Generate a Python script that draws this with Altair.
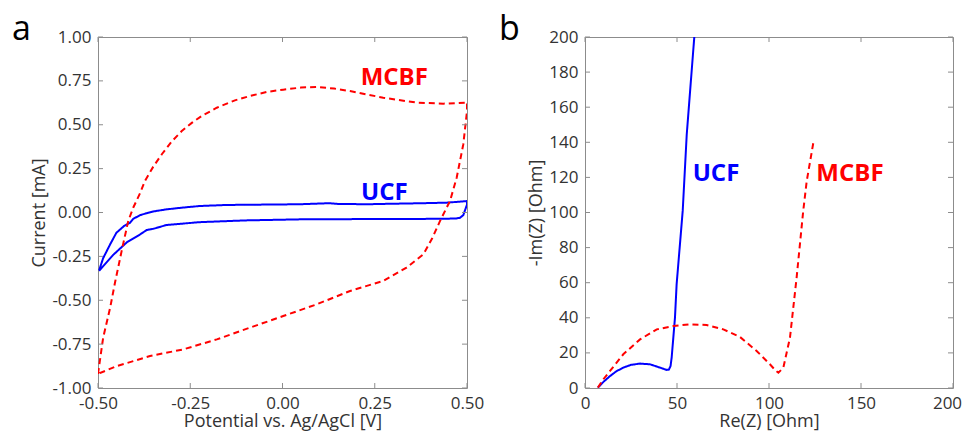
import altair as alt
import pandas as pd

# ---------------- data: panel a (cyclic voltammetry) ----------------
ucf_cv_v = [-0.497, -0.486, -0.467, -0.45, -0.43, -0.413, -0.405, -0.386, -0.368, -0.35,
            -0.314, -0.27, -0.224, -0.15, -0.05, 0.047, 0.127, 0.15, 0.228, 0.3, 0.38,
            0.445, 0.494, 0.5, 0.5, 0.49, 0.481, 0.47, 0.43, 0.3, 0.15, 0.047, -0.1,
            -0.224, -0.314, -0.35, -0.358, -0.368, -0.386, -0.422, -0.458, -0.486, -0.497]
ucf_cv_i = [-0.33, -0.26, -0.181, -0.115, -0.078, -0.058, -0.037, -0.015, -0.004, 0.006,
            0.018, 0.028, 0.037, 0.043, 0.045, 0.047, 0.053, 0.049, 0.047, 0.05, 0.053,
            0.056, 0.064, 0.065, 0.045, -0.015, -0.03, -0.034, -0.036, -0.037, -0.038, -0.039,
            -0.045, -0.055, -0.071, -0.093, -0.096, -0.10, -0.125, -0.17, -0.24, -0.306, -0.333]

mcbf_cv_v = [-0.5, -0.495, -0.486, -0.467, -0.454, -0.436, -0.418, -0.404, -0.386, -0.373,
             -0.35, -0.327, -0.3, -0.273, -0.245, -0.219, -0.178, -0.129, -0.088, -0.04,
             0.002, 0.05, 0.093, 0.14, 0.183, 0.273, 0.364, 0.436, 0.494, 0.5,
             0.5, 0.49, 0.472, 0.454, 0.427, 0.405, 0.382, 0.336, 0.273, 0.183, 0.093,
             0.002, -0.088, -0.178, -0.269, -0.359, -0.449, -0.495, -0.5]
mcbf_cv_i = [-0.92, -0.846, -0.713, -0.542, -0.40, -0.22, -0.048, 0.03, 0.11, 0.179,
             0.262, 0.332, 0.405, 0.464, 0.512, 0.55, 0.597, 0.639, 0.664, 0.688,
             0.70, 0.712, 0.715, 0.706, 0.692, 0.654, 0.626, 0.62, 0.626, 0.63,
             0.578, 0.389, 0.198, 0.066, -0.048, -0.15, -0.238, -0.314, -0.39, -0.447, -0.523,
             -0.59, -0.656, -0.723, -0.78, -0.818, -0.875, -0.915, -0.93]

# ---------------- data: panel b (Nyquist) ----------------
ucf_re = [7, 10, 13.6, 17, 20.8, 25, 29.9, 35.3, 40.8, 44.4, 45.6, 46.5, 47.1, 48,
          48.9, 49.8, 51.6, 53.1, 55.3, 59.4]
ucf_im = [0.2, 3.5, 6.8, 9.5, 11.6, 13.2, 13.9, 13.5, 11.6, 10.3, 10.5, 12.5, 17.3,
          28.7, 40.1, 59.1, 81.9, 100.9, 144.6, 200]

mcbf_re = [7, 10, 13.6, 20.8, 29.9, 39, 48, 57, 66.1, 75.2, 84.2, 93.3, 100.5, 103.5,
           105.1, 107.8, 111.4, 115, 118.6, 120.5, 124.1]
mcbf_im = [0.2, 5, 9.7, 19.2, 27.7, 33.4, 35.3, 36.3, 35.9, 33.4, 29.1, 21.1, 13.5, 10,
           8.7, 11.6, 28.7, 62.8, 100.9, 117.9, 139.8]

series_names = ["UCF", "MCBF"]
series_colors = ["#0000FF", "#FF0000"]

a_xticks = [-0.5, -0.25, 0.0, 0.25, 0.5]
a_yticks = [-1.0, -0.75, -0.5, -0.25, 0.0, 0.25, 0.5, 0.75, 1.0]
b_xticks = [0, 50, 100, 150, 200]
b_yticks = [0, 20, 40, 60, 80, 100, 120, 140, 160, 180, 200]

a_label_text = ["MCBF", "UCF"]
a_label_x = [0.303, 0.276]
a_label_y = [0.766, 0.111]
b_label_text = ["UCF", "MCBF"]
b_label_x = [71.2, 144]
b_label_y = [121.9, 121.9]

FONT = "Open Sans"
TXT = "#333333"
FRAME = "#8c8c8c"
W, H = 369, 351
TL = 5


def series_df(xs_list, ys_list):
    rows = []
    for name, xs, ys in zip(series_names, xs_list, ys_list):
        for k, (xv, yv) in enumerate(zip(xs, ys)):
            rows.append({"x": xv, "y": yv, "series": name, "seq": k})
    return pd.DataFrame(rows)


def panel(df, xdom, ydom, xticks, yticks, xtitle, ytitle, fmt, labels, letter, w, last_shift):
    xs = alt.Scale(domain=xdom, nice=False, zero=False)
    ys = alt.Scale(domain=ydom, nice=False, zero=False)
    if fmt:
        lexpr = "replace(format(datum.value, '.2f'), '\u2212', '-')"
    else:
        lexpr = "format(datum.value, 'd')"
    xaxis = alt.Axis(values=xticks, title=xtitle, labelExpr=lexpr, labelFlush=False,
                     labelOffset={"condition": {"test": "datum.value == %s" % xdom[1], "value": last_shift},
                                  "value": 0})
    yaxis = alt.Axis(values=yticks, title=ytitle, labelExpr=lexpr, labelFlush=False)

    lines = alt.Chart(df).mark_line(strokeWidth=2, clip=True).encode(
        x=alt.X("x:Q", scale=xs, axis=xaxis),
        y=alt.Y("y:Q", scale=ys, axis=yaxis),
        color=alt.Color("series:N", scale=alt.Scale(domain=series_names, range=series_colors), legend=None),
        strokeDash=alt.StrokeDash("series:N", scale=alt.Scale(domain=series_names, range=[[1, 0], [6, 4]]), legend=None),
        order="seq:Q",
        detail="series:N",
    )

    xt = pd.DataFrame({"v": xticks})
    yt = pd.DataFrame({"v": yticks})
    tick_style = dict(color=FRAME, strokeWidth=1)
    bot = alt.Chart(xt).mark_rule(**tick_style).encode(
        x=alt.X("v:Q", scale=xs, axis=xaxis), y=alt.value(H), y2=alt.value(H - TL))
    top = alt.Chart(xt).mark_rule(**tick_style).encode(
        x=alt.X("v:Q", scale=xs, axis=xaxis), y=alt.value(0), y2=alt.value(TL))
    left = alt.Chart(yt).mark_rule(**tick_style).encode(
        y=alt.Y("v:Q", scale=ys, axis=yaxis), x=alt.value(0), x2=alt.value(TL))
    right = alt.Chart(yt).mark_rule(**tick_style).encode(
        y=alt.Y("v:Q", scale=ys, axis=yaxis), x=alt.value(w - TL), x2=alt.value(w))

    ldf = pd.DataFrame({"x": labels[0], "y": labels[1], "t": labels[2],
                        "c": [series_colors[series_names.index(t)] for t in labels[2]]})
    txt = alt.Chart(ldf).mark_text(font=FONT, fontSize=24, fontWeight="bold",
                                   align="center", baseline="middle").encode(
        x=alt.X("x:Q", scale=xs, axis=xaxis),
        y=alt.Y("y:Q", scale=ys, axis=yaxis),
        text="t:N",
        color=alt.Color("c:N", scale=None),
    )

    let = alt.Chart(pd.DataFrame({"t": [letter]})).mark_text(
        font=FONT, fontSize=34, align="left", baseline="alphabetic", color="black").encode(
        x=alt.value(-86), y=alt.value(3), text="t:N")

    return alt.layer(lines, bot, top, left, right, txt, let).properties(width=w, height=H)


dfa = series_df([ucf_cv_v, mcbf_cv_v], [ucf_cv_i, mcbf_cv_i])
dfb = series_df([ucf_re, mcbf_re], [ucf_im, mcbf_im])

pa = panel(dfa, [-0.5, 0.5], [-1.0, 1.0], a_xticks, a_yticks,
           "Potential vs. Ag/AgCl [V]", "Current [mA]", True,
           (a_label_x, a_label_y, a_label_text), "a", W, 0)
pb = panel(dfb, [0, 200], [0, 200], b_xticks, b_yticks,
           "Re(Z) [Ohm]", "-Im(Z) [Ohm]", False,
           (b_label_x, b_label_y, b_label_text), "b", 368, -6)

chart = alt.hconcat(pa, pb, spacing=118, bounds="flush").properties(
    padding={"left": 3, "top": 4, "right": 0, "bottom": 0}
).configure_view(
    stroke=FRAME, strokeWidth=1
).configure_axis(
    grid=False, domain=False, ticks=False,
    labelFont=FONT, labelFontSize=17, labelColor=TXT,
    titleFont=FONT, titleFontSize=18, titleColor=TXT, titleFontWeight="normal",
).configure_axisX(labelPadding=7, titlePadding=1).configure_axisY(labelPadding=7, titlePadding=3)

chart.save("out.html", embed_options={"renderer": "svg", "actions": False})
